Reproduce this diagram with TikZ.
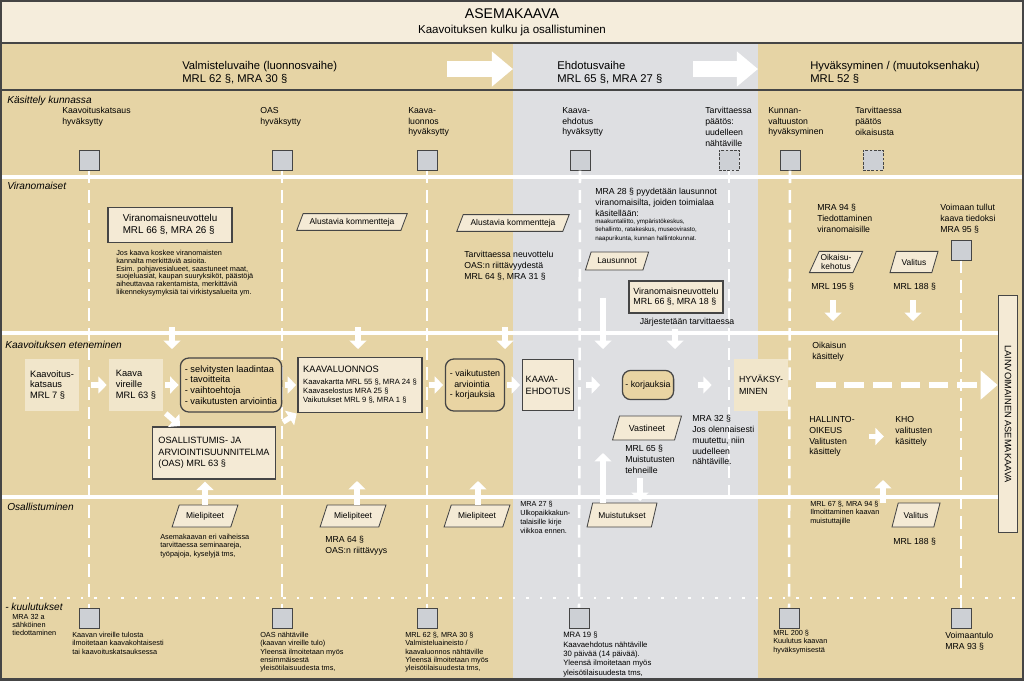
\documentclass[tikz,border=0pt]{standalone}
\usepackage{fontspec}
\setmainfont{Liberation Sans}
\usetikzlibrary{shapes.geometric,arrows.meta}
\definecolor{tanbg}{HTML}{E6D4A5}
\definecolor{greybg}{HTML}{DEDFE2}
\definecolor{titlebg}{HTML}{F5EDDC}
\definecolor{cream}{HTML}{F4EAD5}
\definecolor{lightbox}{HTML}{F1E6CB}
\definecolor{rboxbg}{HTML}{E9D4A3}
\definecolor{sqfill}{HTML}{CDD0D5}
\definecolor{dark}{HTML}{454545}
\newcommand{\fsz}[2]{\fontsize{#1}{#2}\selectfont}

\begin{document}
\begin{tikzpicture}[x=0.025cm,y=-0.025cm,
    lbl/.style={font=\fsz{6.2}{7.7}, align=left, anchor=north west, inner sep=0pt},
    note/.style={font=\fsz{5.2}{5.9}, align=left, anchor=north west, inner sep=0pt},
    row/.style={font=\fsz{7.2}{8.5}\itshape, anchor=north west, inner sep=0pt},
    phase/.style={font=\fsz{8}{9.3}, align=left, anchor=north west, inner sep=0pt},
    box/.style={draw=dark, line width=0.9pt, fill=cream, align=left, inner sep=1pt},
    pbox/.style={fill=lightbox, align=left, inner sep=1pt, minimum width=1.35cm, minimum height=1.3cm, font=\fsz{6.6}{7.8}},
    rbox/.style={draw=dark, line width=0.9pt, fill=rboxbg, rounded corners=6pt, align=left, inner sep=1pt},
    para/.style={trapezium, trapezium left angle=62, trapezium right angle=118, trapezium stretches=true,
        draw=dark, line width=0.6pt, fill=cream, font=\fsz{6}{6.6}, align=center, inner sep=1pt},
    sq/.style={draw=dark, line width=0.7pt, fill=sqfill, minimum size=0.5cm, inner sep=0pt},
    dsq/.style={sq, dash pattern=on 2pt off 1pt},
    wline/.style={white, line width=2.6pt},
    vline/.style={white, line width=1.8pt, dash pattern=on 9pt off 5pt},
    warr/.style={white, line width=3.8pt, -{Triangle[length=6pt,width=12pt]}},
    bigarr/.style={white, line width=11pt, -{Triangle[length=15pt,width=24pt]}},
    darr/.style={white, line width=4.3pt, dash pattern=on 14pt off 6pt, -{Triangle[length=12pt,width=20pt]}}
  ]
  \useasboundingbox (0,0) rectangle (1024,680);
  \fill[tanbg] (0,0) rectangle (1024,680);
  \fill[titlebg] (0,0) rectangle (1024,43);
  \fill[greybg] (513,43) rectangle (758,680);
  \draw[dark, line width=1.2pt] (0,43) -- (1024,43) (0,90) -- (1024,90);
  \draw[wline] (0,177) -- (1024,177);
  \draw[wline] (0,333) -- (998,333);
  \draw[wline] (0,497) -- (998,497);
  \draw[white, line width=1.6pt, dash pattern=on 1.6pt off 8pt] (0,598) -- (1024,598);

  \node[font=\fsz{10}{12}] (ttl) at (512,14) {ASEMAKAAVA};
  \node[font=\fsz{8.2}{10}] (sub) at (512,31) {Kaavoituksen kulku ja osallistuminen};
  \node[phase] (ph1) at (182,61) {Valmisteluvaihe (luonnosvaihe)\\MRL 62 §, MRA 30 §};
  \node[phase] (ph2) at (557,61) {Ehdotusvaihe\\MRL 65 §, MRA 27 §};
  \node[phase] (ph3) at (810,61) {Hyväksyminen / (muutoksenhaku)\\MRL 52 §};
  \coordinate (pa1) at (447,69); \coordinate (pa2) at (513,69);
  \coordinate (pa3) at (693,69); \coordinate (pa4) at (758,69);
  \draw[bigarr] (pa1) -- (pa2);
  \draw[bigarr] (pa3) -- (pa4);

  \node[row] (r1) at (7,96) {Käsittely kunnassa};
  \node[row] (r2) at (7,182) {Viranomaiset};
  \node[row] (r3) at (5,341) {Kaavoituksen eteneminen};
  \node[row] (r4) at (7,503) {Osallistuminen};
  \node[row] (r5) at (5,603) {- kuulutukset};
  \node[note] (r5n) at (12,614) {MRA 32 a\\sähköinen\\tiedottaminen};

  \node[sq] (s1) at (89,160) {};
  \node[sq] (s2) at (282,160) {};
  \node[sq] (s3) at (427,160) {};
  \node[sq] (s4) at (580,160) {};
  \node[dsq] (s5) at (729,160) {};
  \node[sq] (s6) at (790,160) {};
  \node[dsq] (s7) at (873,160) {};
  \node[sq] (vsq) at (961,250) {};
  \node[sq] (b1) at (89,618) {};
  \node[sq] (b2) at (282,618) {};
  \node[sq] (b3) at (427,618) {};
  \node[sq] (b4) at (579,618) {};
  \node[sq] (b5) at (789,618) {};
  \node[sq] (b6) at (961,618) {};
  \coordinate (e5) at (729,497);
  \draw[vline] (s1.south) -- (b1.north);
  \draw[vline] (s2.south) -- (b2.north);
  \draw[vline] (s3.south) -- (b3.north);
  \draw[vline] (s4.south) -- (b4.north);
  \draw[vline] (s5.south) -- (e5);
  \draw[vline] (s6.south) -- (b5.north);
  \draw[vline] (vsq.south) -- (b6.north);

  \node[lbl] (l1) at (62,107) {Kaavoituskatsaus\\hyväksytty};
  \node[lbl] (l2) at (260,107) {OAS\\hyväksytty};
  \node[lbl] (l3) at (408,107) {Kaava-\\luonnos\\hyväksytty};
  \node[lbl] (l4) at (562,107) {Kaava-\\ehdotus\\hyväksytty};
  \node[lbl] (l5) at (705,107) {Tarvittaessa\\päätös:\\uudelleen\\nähtäville};
  \node[lbl] (l6) at (768,107) {Kunnan-\\valtuuston\\hyväksyminen};
  \node[lbl] (l7) at (855,107) {Tarvittaessa\\päätös\\oikaisusta};

  \node[box, minimum width=3.1cm, minimum height=0.875cm, font=\fsz{7}{8.5}] (vn1) at (170,225) {Viranomaisneuvottelu\\MRL 66 §, MRA 26 §};
  \node[note, font=\fsz{5.2}{5.5}] (vn1t) at (116,250) {Jos kaava koskee viranomaisten\\kannalta merkittäviä asioita.\\Esim. pohjavesialueet, saastuneet maat,\\suojeluasiat, kaupan suuryksiköt, päästöjä\\aiheuttavaa rakentamista, merkittäviä\\liikennekysymyksiä tai virkistysalueita ym.};
  \node[para, minimum width=2.78cm, minimum height=0.42cm] (alk1) at (352,222) {Alustavia kommentteja};
  \node[para, minimum width=2.83cm, minimum height=0.42cm] (alk2) at (513,223) {Alustavia kommentteja};
  \node[lbl] (neuv) at (464,251) {Tarvittaessa neuvottelu\\OAS:n riittävyydestä\\MRL 64 §, MRA 31 §};
  \node[lbl] (mra28) at (595,188) {MRA 28 § pyydetään lausunnot\\viranomaisilta, joiden toimialaa\\käsitellään:};
  \node[note, font=\fsz{4.4}{5.8}] (mra28t) at (595,219) {maakuntaliitto, ympäristökeskus,\\tiehallinto, ratakeskus, museovirasto,\\naapurikunta, kunnan hallintokunnat.};
  \node[para, minimum width=1.58cm, minimum height=0.45cm] (laus) at (617,261) {Lausunnot};
  \node[box, minimum width=2.35cm, minimum height=0.8cm, font=\fsz{6.3}{7.6}] (vn2) at (676,297) {Viranomaisneuvottelu\\MRL 66 §, MRA 18 §};
  \node[lbl, anchor=center] (vn2t) at (687,322) {Järjestetään tarvittaessa};
  \node[lbl] (mra94) at (817,204) {MRA 94 §\\Tiedottaminen\\viranomaisille};
  \node[lbl] (mra95) at (940,204) {Voimaan tullut\\kaava tiedoksi\\MRA 95 §};
  \node[para, minimum width=1.3cm, minimum height=0.53cm] (oik) at (836,262) {Oikaisu-\\kehotus};
  \node[para, minimum width=1.2cm, minimum height=0.53cm] (val1) at (914,262) {Valitus};
  \node[lbl] (mrl195) at (811,283) {MRL 195 §};
  \node[lbl] (mrl188a) at (893,283) {MRL 188 §};

  \node[pbox] (kk) at (52,385) {Kaavoitus-\\katsaus\\MRL 7 §};
  \node[pbox] (kv) at (136,385) {Kaava\\vireille\\MRL 63 §};
  \node[rbox, minimum width=2.53cm, minimum height=1.35cm, font=\fsz{6.6}{7.6}] (sel) at (231,385) {- selvitysten laadintaa\\- tavoitteita\\- vaihtoehtoja\\- vaikutusten arviointia};
  \node[box, minimum width=3.08cm, minimum height=1.3cm, font=\fsz{6.5}{8.3}] (oas) at (214,453) {OSALLISTUMIS- JA\\ARVIOINTISUUNNITELMA\\(OAS) MRL 63 §};
  \node[box, minimum width=3.1cm, minimum height=1.375cm, font=\fsz{5.4}{6.4}] (kl) at (360,385) {{\fsz{6.6}{8}KAAVALUONNOS}\\[2pt]Kaavakartta MRL 55 §, MRA 24 §\\Kaavaselostus MRA 25 §\\Vaikutukset MRL 9 §, MRA 1 §};
  \node[rbox, minimum width=1.48cm, minimum height=1.3cm, font=\fsz{6.3}{7.4}] (vai) at (475,385) {- vaikutusten\\\hspace*{0.5em}arviointia\\- korjauksia};
  \node[box, minimum width=1.28cm, minimum height=1.28cm, font=\fsz{6.5}{8.5}] (ke) at (548,385) {KAAVA-\\EHDOTUS};
  \node[rbox, minimum width=1.28cm, minimum height=0.73cm, font=\fsz{6.3}{7.4}] (kor) at (648,385) {- korjauksia};
  \node[pbox, font=\fsz{6.3}{8.5}] (hyv) at (761,385) {HYVÄKSY-\\MINEN};
  \node[lbl] (oikk) at (812,342) {Oikaisun\\käsittely};
  \node[lbl] (hao) at (809,416) {HALLINTO-\\OIKEUS\\Valitusten\\käsittely};
  \node[lbl] (kho) at (895,416) {KHO\\valitusten\\käsittely};
  \node[para, minimum width=1.73cm, minimum height=0.6cm, font=\fsz{6.3}{7}] (vast) at (647,428) {Vastineet};
  \node[lbl] (mrl65) at (625,445) {MRL 65 §\\Muistutusten\\tehneille};
  \node[lbl] (mra32) at (692,415) {MRA 32 §\\Jos olennaisesti\\muutettu, niin\\uudelleen\\nähtäville.};
  \node[box, rotate=-90, minimum width=5.93cm, minimum height=0.48cm, font=\fsz{6.6}{8}, align=center] (lain) at (1008,414) {LAINVOIMAINEN ASEMAKAAVA};

  \node[para, minimum width=1.65cm, minimum height=0.55cm] (mp1) at (205,516) {Mielipiteet};
  \node[para, minimum width=1.65cm, minimum height=0.55cm] (mp2) at (353,516) {Mielipiteet};
  \node[para, minimum width=1.65cm, minimum height=0.55cm] (mp3) at (477,516) {Mielipiteet};
  \node[note] (mp1t) at (160,534) {Asemakaavan eri vaiheissa\\tarvittaessa seminaareja,\\työpajoja, kyselyjä tms,};
  \node[lbl] (mp2t) at (325,536) {MRA 64 §\\OAS:n riittävyys};
  \node[note, font=\fsz{5.2}{6.3}] (mra27) at (520,501) {MRA 27 §\\Ulkopaikkakun-\\talaisille kirje\\viikkoa ennen.};
  \node[para, minimum width=1.75cm, minimum height=0.6cm] (muis) at (622,515) {Muistutukset};
  \node[note] (mrl67) at (810,501) {MRL 67 §, MRA 94 §\\Ilmoittaminen kaavan\\muistuttajille};
  \node[para, minimum width=1.2cm, minimum height=0.6cm] (val2) at (916,515) {Valitus};
  \node[lbl] (mrl188b) at (893,538) {MRL 188 §};

  \node[note] (k1) at (72,632) {Kaavan vireille tulosta\\ilmoitetaan kaavakohtaisesti\\tai kaavoituskatsauksessa};
  \node[note] (k2) at (260,632) {OAS nähtäville\\(kaavan vireille tulo)\\Yleensä ilmoitetaan myös\\ensimmäisestä\\yleisötilaisuudesta tms,};
  \node[note] (k3) at (405,632) {MRL 62 §, MRA 30 §\\Valmisteluaineisto /\\kaavaluonnos nähtäville\\Yleensä ilmoitetaan myös\\yleisötilaisuudesta tms,};
  \node[note, font=\fsz{5.5}{6.6}] (k4) at (563,632) {MRA 19 §\\Kaavaehdotus nähtäville\\30 päivää (14 päivää).\\Yleensä ilmoitetaan myös\\yleisötilaisuudesta tms,};
  \node[note] (k5) at (773,630) {MRL 200 §\\Kuulutus kaavan\\hyväksymisestä};
  \node[lbl] (k6) at (945,632) {Voimaantulo\\MRA 93 §};

  \draw[warr, shorten <=0.3cm, shorten >=0.05cm] (kk) -- (kv);
  \draw[warr, shorten <=0.05cm, shorten >=0.03cm] (kv) -- (sel);
  \draw[warr, shorten <=0.06cm, shorten >=0.03cm] (sel) -- (kl);
  \draw[warr, shorten <=0.15cm, shorten >=0.04cm] (kl) -- (vai);
  \draw[warr, shorten <=0.05cm, shorten >=0.04cm] (vai) -- (ke);
  \draw[warr, shorten <=0.29cm, shorten >=0.54cm] (ke) -- (kor);
  \draw[warr, shorten <=0.59cm, shorten >=0.55cm] (kor) -- (hyv);
  \draw[darr, shorten <=0.7cm, shorten >=0.26cm] (hyv.east) -- (hyv.east -| lain.west);
  \draw[warr, shorten <=0.34cm, shorten >=0.28cm] (hao.east) -- (hao.east -| kho.west);
  \coordinate (d1) at (180,426);
  \draw[warr, shorten <=0.08cm] (kv.south east) -- (d1);
  \draw[warr, shorten <=0.2cm, shorten >=0.02cm] (oas.north east) -- (kl.south west);

  \coordinate (t1) at (172,349);
  \coordinate (t2) at (358,349);
  \coordinate (t3) at (505,349);
  \coordinate (t4) at (603,349);
  \coordinate (t5) at (675,349);
  \coordinate (t6) at (833,321);
  \coordinate (t7) at (913,321);
  \draw[warr, shorten <=2.1cm] (t1 |- vn1.south) -- (t1);
  \draw[warr, shorten <=2.41cm] (t2 |- alk1.south) -- (t2);
  \draw[warr, shorten <=2.39cm] (t3 |- alk2.south) -- (t3);
  \draw[warr, shorten <=0.68cm] (t4 |- laus.south) -- (t4);
  \draw[warr, shorten <=0.38cm] (t5 |- vn2.south) -- (t5);
  \draw[warr, shorten <=0.68cm] (t6 |- oik.south) -- (t6);
  \draw[warr, shorten <=0.68cm] (t7 |- val1.south) -- (t7);

  \coordinate (t8) at (357,481);
  \coordinate (t9) at (478,481);
  \coordinate (t10) at (603,453);
  \coordinate (t11) at (640,501);
  \coordinate (t12) at (883,480);
  \draw[warr, shorten >=0.05cm] (mp1.north) -- (mp1.north |- oas.south);
  \draw[warr] (t8 |- mp2.north) -- (t8);
  \draw[warr] (t9 |- mp3.north) -- (t9);
  \draw[warr] (t10 |- muis.north) -- (t10);
  \draw[warr, shorten <=0.95cm] (t11 |- vast.south) -- (t11);
  \draw[warr] (t12 |- val2.north) -- (t12);

  \draw[dark, line width=1.6pt] (0.5,0.5) rectangle (1023.5,679.5);
\end{tikzpicture}
\end{document}
